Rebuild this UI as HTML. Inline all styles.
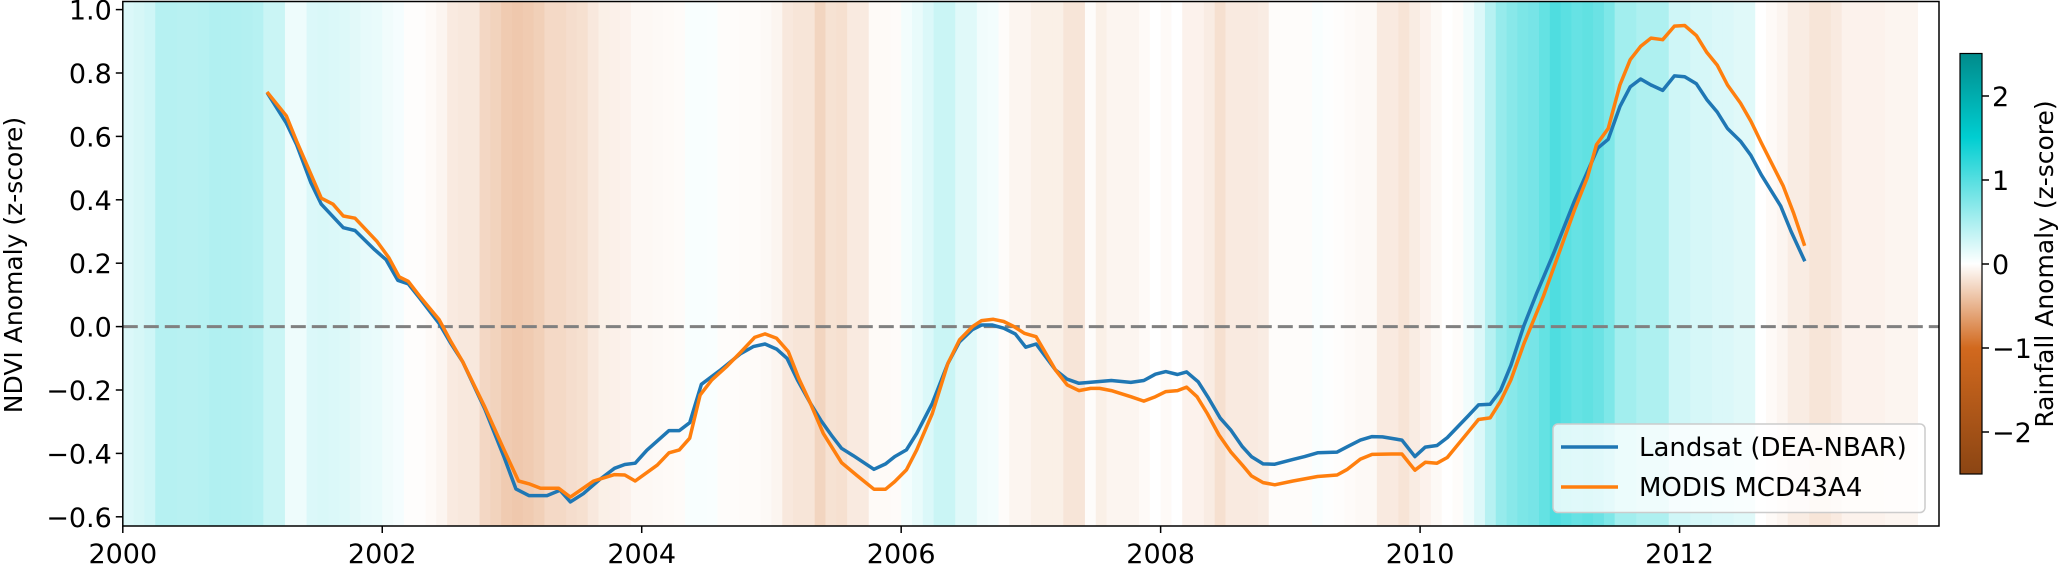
<!DOCTYPE html>
<html><head><meta charset="utf-8"><style>
html,body{margin:0;padding:0;background:#fff;}
svg{display:block;font-family:"DejaVu Sans","Liberation Sans",sans-serif;}
</style></head><body>
<svg id="chart" width="2067" height="567" viewBox="0 0 2067 567" xmlns="http://www.w3.org/2000/svg">
<defs>
<linearGradient id="cbgrad" x1="0" y1="0" x2="0" y2="1">
<stop offset="0" stop-color="#008b8b"/>
<stop offset="0.2" stop-color="#00ced1"/>
<stop offset="0.5" stop-color="#ffffff"/>
<stop offset="0.7" stop-color="#d2691e"/>
<stop offset="1" stop-color="#8b4513"/>
</linearGradient>
<clipPath id="plotclip"><rect x="122.8" y="1.5" width="1816.2" height="524.5"/></clipPath>
</defs>
<g id="stripes" clip-path="url(#plotclip)"></g>
<line id="zeroline" stroke="#808080" stroke-width="3" stroke-dasharray="15 6"/>
<g id="series" clip-path="url(#plotclip)"></g>
<rect x="122.8" y="1.5" width="1816.2" height="524.5" fill="none" stroke="#000" stroke-width="1.5"/>
<g id="yticks" font-size="27" fill="#000"></g>
<g id="xticks" font-size="27" fill="#000"></g>
<text transform="translate(22,265) rotate(-90)" text-anchor="middle" font-size="25">NDVI Anomaly (z-score)</text>
<g>
<rect x="1553" y="424" width="372" height="88.5" rx="5" fill="#ffffff" fill-opacity="0.8" stroke="#cccccc" stroke-width="1.5"/>
<line x1="1561" y1="447" x2="1618" y2="447" stroke="#1f77b4" stroke-width="3.5"/>
<text x="1639" y="456" font-size="26">Landsat (DEA-NBAR)</text>
<line x1="1561" y1="487" x2="1618" y2="487" stroke="#ff7f0e" stroke-width="3.5"/>
<text x="1639" y="496" font-size="26">MODIS MCD43A4</text>
</g>
<g>
<rect x="1960" y="53.5" width="22" height="420.5" fill="url(#cbgrad)" stroke="#000" stroke-width="1.2"/>
<g id="cbticks" font-size="27"></g>
<text transform="translate(2053,264) rotate(-90)" text-anchor="middle" font-size="25">Rainfall Anomaly (z-score)</text>
</g>
</svg>
<script>
// ---- data ----
const rainfallMonthly = [
0.3,0.35,0.4,0.62,0.62,0.6,0.6,0.62,0.66,0.66,0.66,0.64,
0.62,0.45,0.45,0.14,0.14,0.3,0.32,0.3,0.28,0.25,0.2,0.18,
0.12,0.08,-0.02,-0.02,-0.05,-0.1,-0.2,-0.22,-0.22,-0.38,-0.42,-0.5,
-0.52,-0.5,-0.45,-0.36,-0.36,-0.32,-0.3,-0.22,-0.15,-0.14,-0.12,-0.07,
-0.07,-0.06,-0.05,-0.04,0.06,0.06,0.05,-0.03,-0.03,-0.04,-0.04,-0.06,
-0.1,-0.22,-0.25,-0.25,-0.4,-0.28,-0.3,-0.2,-0.2,-0.05,-0.05,-0.04,
0.1,0.18,0.3,0.45,0.45,0.26,0.26,0.12,0.1,-0.03,-0.1,-0.1,
-0.15,-0.15,-0.15,-0.25,-0.25,-0.03,-0.15,-0.1,-0.1,-0.1,-0.05,0,
-0.05,0,-0.12,-0.12,-0.18,-0.3,-0.2,-0.2,-0.2,-0.18,-0.03,-0.03,
-0.03,-0.03,0.05,0.02,-0.02,-0.04,-0.06,-0.06,-0.2,-0.2,-0.26,-0.18,
-0.12,-0.06,0,-0.03,0.12,0.3,0.62,0.88,1.0,1.1,1.15,1.3,
1.48,1.38,1.28,1.33,1.25,1.08,0.78,0.78,0.68,0.68,0.68,0.4,
0.4,0.34,0.34,0.3,0.3,0.26,0.26,0,-0.05,-0.1,-0.18,-0.18,
-0.25,-0.25,-0.2,-0.12,-0.12,-0.12,-0.12,-0.1,-0.1,-0.1];

const landsatDates = [2001.12,2001.26,2001.34,2001.45,2001.53,2001.70,2001.79,2001.94,2002.03,2002.12,2002.20,2002.29,2002.44,2002.53,2002.62,2002.79,2002.94,2003.03,2003.13,2003.27,2003.37,2003.45,2003.55,2003.68,2003.79,2003.87,2003.95,2004.04,2004.21,2004.29,2004.37,2004.46,2004.60,2004.76,2004.86,2004.95,2005.04,2005.12,2005.20,2005.30,2005.38,2005.47,2005.54,2005.63,2005.79,2005.88,2005.95,2006.04,2006.12,2006.24,2006.36,2006.45,2006.55,2006.62,2006.70,2006.79,2006.88,2006.96,2007.04,2007.19,2007.28,2007.37,2007.62,2007.77,2007.87,2007.96,2008.04,2008.13,2008.20,2008.29,2008.37,2008.46,2008.54,2008.63,2008.70,2008.79,2008.88,2009.02,2009.11,2009.21,2009.36,2009.44,2009.54,2009.63,2009.71,2009.86,2009.96,2010.04,2010.13,2010.21,2010.37,2010.45,2010.54,2010.62,2010.70,2010.80,2010.90,2011.03,2011.19,2011.29,2011.37,2011.45,2011.54,2011.62,2011.70,2011.78,2011.87,2011.96,2012.04,2012.13,2012.21,2012.29,2012.37,2012.47,2012.55,2012.63,2012.78,2012.86,2012.96];
const landsatValues = [0.733,0.642,0.574,0.454,0.386,0.312,0.303,0.243,0.211,0.146,0.135,0.089,0.009,-0.054,-0.111,-0.259,-0.413,-0.512,-0.533,-0.533,-0.516,-0.553,-0.527,-0.481,-0.447,-0.435,-0.431,-0.39,-0.328,-0.328,-0.303,-0.182,-0.139,-0.086,-0.063,-0.055,-0.071,-0.1,-0.168,-0.242,-0.295,-0.347,-0.384,-0.407,-0.45,-0.433,-0.41,-0.389,-0.337,-0.242,-0.116,-0.048,-0.009,0.005,0.005,-0.005,-0.023,-0.065,-0.055,-0.137,-0.166,-0.179,-0.17,-0.176,-0.17,-0.15,-0.142,-0.151,-0.143,-0.174,-0.226,-0.289,-0.326,-0.379,-0.41,-0.433,-0.434,-0.419,-0.41,-0.398,-0.396,-0.379,-0.358,-0.347,-0.348,-0.358,-0.41,-0.38,-0.375,-0.35,-0.282,-0.247,-0.245,-0.202,-0.122,0.003,0.106,0.232,0.397,0.488,0.563,0.591,0.694,0.756,0.781,0.762,0.745,0.791,0.788,0.766,0.716,0.677,0.625,0.585,0.54,0.479,0.38,0.3,0.211];

const modisDates = [2001.12,2001.26,2001.34,2001.53,2001.62,2001.70,2001.79,2001.96,2002.05,2002.13,2002.20,2002.29,2002.44,2002.53,2002.62,2002.79,2002.94,2003.05,2003.13,2003.22,2003.36,2003.45,2003.63,2003.79,2003.87,2003.95,2004.12,2004.21,2004.29,2004.37,2004.45,2004.54,2004.66,2004.76,2004.87,2004.95,2005.04,2005.13,2005.21,2005.30,2005.40,2005.54,2005.66,2005.79,2005.88,2005.95,2006.04,2006.12,2006.24,2006.36,2006.45,2006.55,2006.62,2006.71,2006.79,2006.87,2006.95,2007.04,2007.19,2007.28,2007.37,2007.46,2007.53,2007.62,2007.77,2007.87,2007.96,2008.04,2008.13,2008.20,2008.28,2008.36,2008.45,2008.54,2008.63,2008.70,2008.79,2008.88,2009.02,2009.21,2009.36,2009.44,2009.54,2009.63,2009.78,2009.86,2009.96,2010.04,2010.13,2010.21,2010.37,2010.45,2010.54,2010.62,2010.70,2010.80,2010.95,2011.09,2011.19,2011.29,2011.36,2011.45,2011.54,2011.62,2011.70,2011.78,2011.87,2011.96,2012.04,2012.13,2012.21,2012.29,2012.37,2012.47,2012.55,2012.63,2012.80,2012.88,2012.96];
const modisValues = [0.736,0.665,0.585,0.405,0.386,0.349,0.342,0.268,0.218,0.157,0.143,0.095,0.021,-0.048,-0.111,-0.253,-0.39,-0.487,-0.496,-0.51,-0.51,-0.538,-0.487,-0.467,-0.468,-0.487,-0.437,-0.398,-0.389,-0.352,-0.216,-0.168,-0.124,-0.082,-0.034,-0.023,-0.037,-0.079,-0.163,-0.242,-0.337,-0.429,-0.47,-0.513,-0.513,-0.489,-0.452,-0.389,-0.274,-0.116,-0.042,0.0,0.019,0.023,0.016,0.0,-0.021,-0.032,-0.137,-0.184,-0.202,-0.195,-0.195,-0.202,-0.221,-0.235,-0.221,-0.205,-0.202,-0.191,-0.221,-0.274,-0.342,-0.395,-0.437,-0.471,-0.492,-0.499,-0.487,-0.473,-0.468,-0.45,-0.418,-0.403,-0.402,-0.402,-0.453,-0.428,-0.431,-0.413,-0.333,-0.293,-0.288,-0.236,-0.168,-0.054,0.095,0.254,0.368,0.471,0.574,0.625,0.762,0.842,0.884,0.91,0.905,0.948,0.95,0.918,0.865,0.825,0.762,0.705,0.648,0.58,0.443,0.357,0.26];

const yTickValues = [-0.6,-0.4,-0.2,0.0,0.2,0.4,0.6,0.8,1.0];
const xTickYears = [2000,2002,2004,2006,2008,2010,2012];
const cbTickValues = [-2,-1,0,1,2];

// ---- axes ----
const L=122.8,R=1939,T=1.5,B=526;
const X0=2000,X1=2014;
function xs(yr){return L+(yr-X0)*(R-L)/(X1-X0);}
function ys(v){return 326.6-v*317;}
function cbY(v){return 264-v*84;}
const NS="http://www.w3.org/2000/svg";
function el(tag,attrs,parent){const e=document.createElementNS(NS,tag);for(const k in attrs)e.setAttribute(k,attrs[k]);parent.appendChild(e);return e;}
function fmt(v){const s=Math.abs(v).toFixed(1);return (v<-1e-9?"\u2212":"")+s;}

function mix(a,b,t){return [0,1,2].map(i=>Math.round(a[i]+(b[i]-a[i])*t));}
function rainColor(v){
  let c;
  const W=[255,255,255];
  if(v>=0){
    if(v<=1.5)c=mix(W,[0,206,209],v/1.5); else c=mix([0,206,209],[0,139,139],Math.min((v-1.5)/1,1));
  }else{
    const a=-v;
    if(a<=1)c=mix(W,[210,105,30],a); else c=mix([210,105,30],[139,69,19],Math.min((a-1)/1.5,1));
  }
  const f=mix(W,c,0.7);
  return "rgb("+f.join(",")+")";
}

const stripes=document.getElementById("stripes");
rainfallMonthly.forEach((v,i)=>{
  const x0=xs(X0+i/12),x1=xs(X0+(i+1)/12);
  const r=el("rect",{x:x0,y:T,width:x1-x0+0.6,height:B-T,fill:rainColor(v)},stripes);
  
  
});

const zl=document.getElementById("zeroline");
zl.setAttribute("x1",L);zl.setAttribute("x2",R);zl.setAttribute("y1",ys(0));zl.setAttribute("y2",ys(0));

const series=document.getElementById("series");
function drawLine(dates,vals,color,name){
  const pts=dates.map((d,i)=>xs(d).toFixed(1)+","+ys(vals[i]).toFixed(1)).join(" ");
  const p=el("polyline",{points:pts,fill:"none",stroke:color,"stroke-width":3.5,"stroke-linejoin":"round","stroke-linecap":"square"},series);
  
  
}
drawLine(landsatDates,landsatValues,"#1f77b4","landsat-line");
drawLine(modisDates,modisValues,"#ff7f0e","modis-line");

const yt=document.getElementById("yticks");
yTickValues.forEach(v=>{
  const y=ys(v);
  const l=el("line",{x1:L-7,x2:L,y1:y,y2:y,stroke:"#000","stroke-width":1.5},yt);
  
  
  const t=el("text",{x:L-11,y:y+10,"text-anchor":"end"},yt);
  t.textContent=fmt(v);
  
  
});
const xt=document.getElementById("xticks");
xTickYears.forEach(yr=>{
  const x=xs(yr);
  const l=el("line",{x1:x,x2:x,y1:B,y2:B+7,stroke:"#000","stroke-width":1.5},xt);
  
  
  const t=el("text",{x:x,y:563,"text-anchor":"middle"},xt);
  t.textContent=String(yr);
  
  
});
const cbt=document.getElementById("cbticks");
cbTickValues.forEach(v=>{
  const y=cbY(v);
  const l=el("line",{x1:1982,x2:1989,y1:y,y2:y,stroke:"#000","stroke-width":1.5},cbt);
  
  
  const t=el("text",{x:1992,y:y+10},cbt);
  t.textContent=(v<0?"\u2212":"")+Math.abs(v);
  
  
});
</script>
</body></html>
